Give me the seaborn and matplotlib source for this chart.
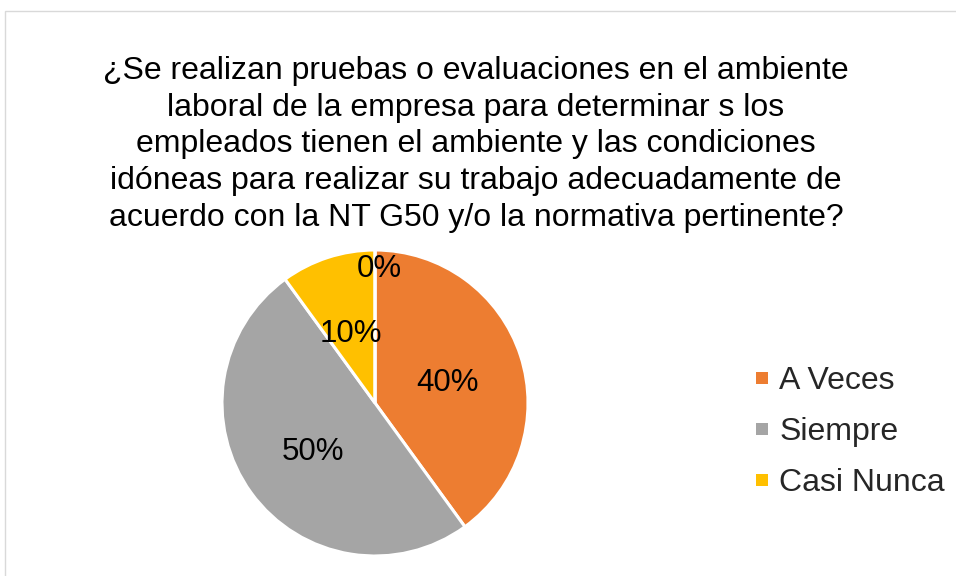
import matplotlib
matplotlib.use('Agg')
import numpy as np
import matplotlib.pyplot as plt
import seaborn as sns
from matplotlib.patches import Rectangle
from matplotlib.lines import Line2D

# data
categories = ['A Veces', 'Siempre', 'Casi Nunca', 'Nunca']
values = [40, 50, 10, 0]
legend_items = ['A Veces', 'Siempre', 'Casi Nunca']
colors = ['#ED7D31', '#A5A5A5', '#FFC000', '#5B9BD5']
title = ('¿Se realizan pruebas o evaluaciones en el ambiente\n'
         'laboral de la empresa para determinar s los\n'
         'empleados tienen el ambiente y las condiciones\n'
         'idóneas para realizar su trabajo adecuadamente de\n'
         'acuerdo con la NT G50 y/o la normativa pertinente?')

sns.set_style('white')
plt.rcParams['font.family'] = ['Liberation Sans', 'DejaVu Sans']

W, H = 956, 576
fig = plt.figure(figsize=(W / 100, H / 100), dpi=100)

# light chart border
fig.patches.append(Rectangle((5 / W, -0.05), 1.1, 1 - 11 / H + 0.05,
                             transform=fig.transFigure, fill=False,
                             edgecolor='#D9D9D9', linewidth=1))

fig.text(476 / W, 1 - 56 / H, title, ha='center', va='top',
         fontsize=23, linespacing=1.29, color='#000000')

cx, cy, r = 375, 403, 153
ax = fig.add_axes([(cx - r) / W, (H - cy - r) / H, 2 * r / W, 2 * r / H])
wedges, _ = ax.pie(values, colors=colors, startangle=90, counterclock=False,
                   wedgeprops=dict(edgecolor='white', linewidth=2.2))
ax.set_xlim(-1, 1)
ax.set_ylim(-1, 1)
ax.set_aspect('equal')
ax.axis('off')

total = sum(values)
for w, v in zip(wedges, values):
    ang = np.deg2rad((w.theta1 + w.theta2) / 2)
    d = 0.5 if v > 0 else 0.9
    ax.text(d * np.cos(ang) + (0.03 if v == 0 else 0), d * np.sin(ang) - 0.025,
            f'{v / total:.0%}', ha='center', va='center', fontsize=22.5,
            color='#000000')

handles = [Line2D([], [], marker='s', linestyle='', markersize=9,
                  markerfacecolor=colors[categories.index(c)],
                  markeredgewidth=0) for c in legend_items]
fig.legend(handles, legend_items, loc='center left',
           bbox_to_anchor=(736 / W, 1 - 432 / H), frameon=False,
           fontsize=23, handlelength=0.6, handletextpad=0.25,
           labelspacing=0.66, borderpad=0)

fig.savefig('out.png', dpi=100)
